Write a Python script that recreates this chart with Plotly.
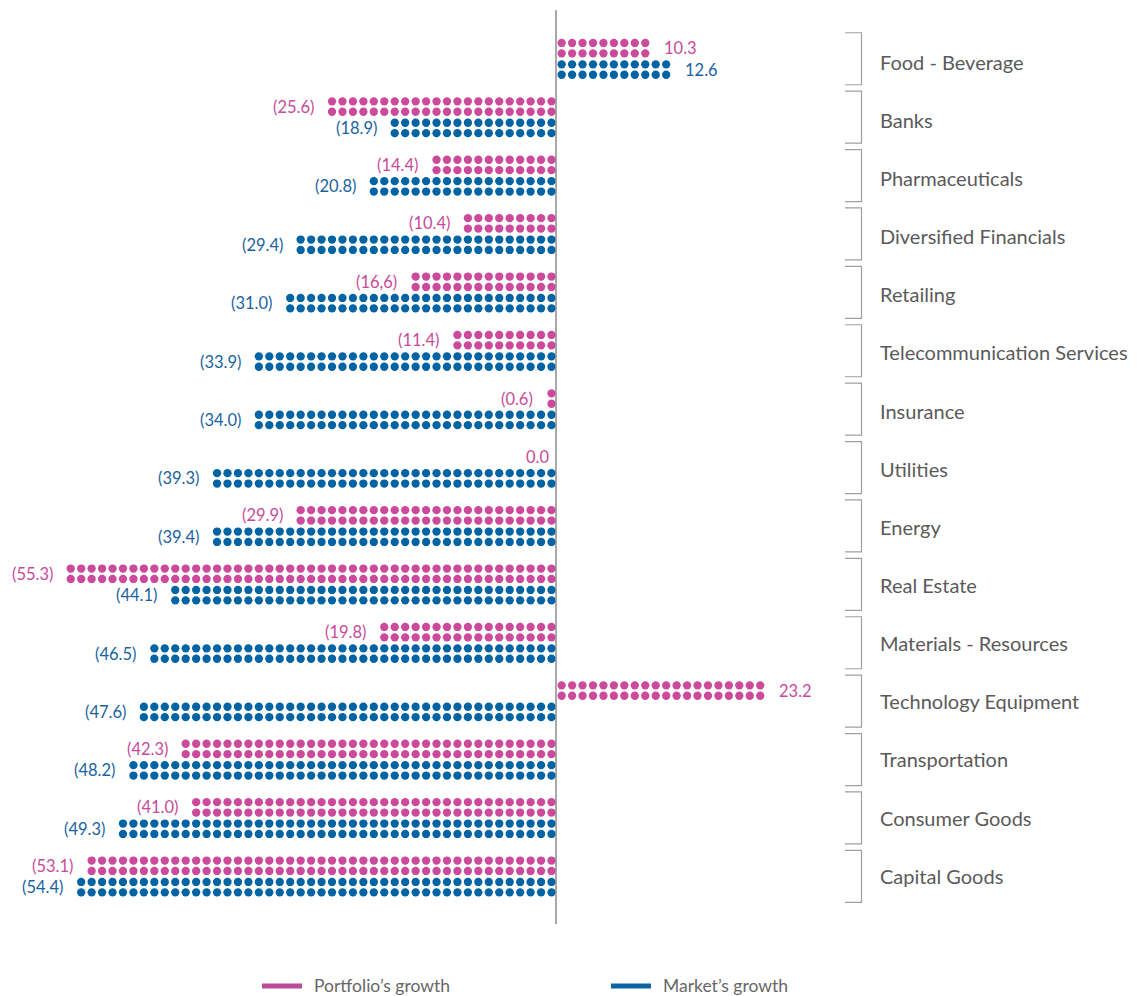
import plotly.graph_objects as go

# ---- data -------------------------------------------------------------
categories = [
    "Food - Beverage", "Banks", "Pharmaceuticals", "Diversified Financials",
    "Retailing", "Telecommunication Services", "Insurance", "Utilities",
    "Energy", "Real Estate", "Materials - Resources", "Technology Equipment",
    "Transportation", "Consumer Goods", "Capital Goods",
]
portfolio = [10.3, -25.6, -14.4, -10.4, -16.6, -11.4, -0.6, 0.0,
             -29.9, -55.3, -19.8, 23.2, -42.3, -41.0, -53.1]
market = [12.6, -18.9, -20.8, -29.4, -31.0, -33.9, -34.0, -39.3,
          -39.4, -44.1, -46.5, -47.6, -48.2, -49.3, -54.4]
portfolio_labels = ["10.3", "(25.6)", "(14.4)", "(10.4)", "(16,6)", "(11.4)",
                    "(0.6)", "0.0", "(29.9)", "(55.3)", "(19.8)", "23.2",
                    "(42.3)", "(41.0)", "(53.1)"]
market_labels = ["12.6", "(18.9)", "(20.8)", "(29.4)", "(31.0)", "(33.9)",
                 "(34.0)", "(39.3)", "(39.4)", "(44.1)", "(46.5)", "(47.6)",
                 "(48.2)", "(49.3)", "(54.4)"]
legend_names = ["Portfolio\u2019s growth", "Market\u2019s growth"]

# ---- styling / geometry -------------------------------------------------
W, H = 1142, 996
PINK, BLUE = "#CC4A9B", "#0063A3"
PINK_TXT, BLUE_TXT = "#C84B9A", "#1A63A0"
LABEL_GREY = "#5A5A5A"
FONT = "Lato"

UNIT = 1.185           # growth points represented by one column of dots
PX_PER_UNIT = 8.82     # horizontal scale
ZERO_PX = 556          # pixel position of the zero line
ROW0_PX, ROW_PITCH = 58.75, 58.4
LABEL0_PX, LABEL_PITCH = 61.8, 58.14
DOT_SIZE = 8.3
POS_START, NEG_START = 0.64, 0.51   # gap between the axis and the first dot column
ROW_OFFSETS_PX = [-15.8, -5.4, 5.6, 16.0]

x_min = -ZERO_PX / PX_PER_UNIT
x_max = (W - ZERO_PX) / PX_PER_UNIT
y_top = (0 - ROW0_PX) / ROW_PITCH
y_bot = (H - ROW0_PX) / ROW_PITCH


def py(px):
    """pixel offset -> category units"""
    return px / ROW_PITCH


def y_paper(px):
    return 1 - px / H


def dot_columns(v):
    n = int(round(abs(v) / UNIT))
    if v >= 0:
        return [POS_START + k * UNIT for k in range(n)]
    return [-(NEG_START + k * UNIT) for k in range(n)]


fig = go.Figure()
annotations = []
shapes = []
radius = DOT_SIZE / 2 / PX_PER_UNIT

for series, labels, color, txt_color, rows in [
    (portfolio, portfolio_labels, PINK, PINK_TXT, ROW_OFFSETS_PX[:2]),
    (market, market_labels, BLUE, BLUE_TXT, ROW_OFFSETS_PX[2:]),
]:
    xs, ys = [], []
    for i, v in enumerate(series):
        cols = dot_columns(v)
        for r in rows:
            for c in cols:
                xs.append(c)
                ys.append(i + py(r))
        # value label next to the end of the dots
        ymid = i + py(sum(rows) / 2)
        if cols and v > 0:
            ax, anchor, shift = cols[-1] + radius, "left", 13
        elif cols:
            ax, anchor, shift = cols[-1] - radius, "right", -12
        else:
            ax, anchor, shift = 0, "right", -5
        annotations.append(dict(
            x=ax, y=ymid, xref="x", yref="y", text=labels[i], showarrow=False,
            xanchor=anchor, yanchor="middle", xshift=shift,
            font=dict(family=FONT, size=16.5, color=txt_color),
        ))
    fig.add_trace(go.Scatter(
        x=xs, y=ys, mode="markers", hoverinfo="skip", showlegend=False,
        marker=dict(size=DOT_SIZE, color=color, line=dict(width=0)),
    ))

# category labels and brackets
BR_X0, BR_X1 = 845 / W, 861.5 / W
for i, name in enumerate(categories):
    annotations.append(dict(
        x=878 / W, y=y_paper(LABEL0_PX + i * LABEL_PITCH), xref="paper",
        yref="paper", text=name, showarrow=False, xanchor="left",
        yanchor="middle", font=dict(family=FONT, size=20, color=LABEL_GREY),
    ))
    t, b = i - py(26), i + py(26)
    shapes.append(dict(
        type="path", xref="paper", yref="y",
        path=f"M {BR_X0},{t} L {BR_X1},{t} L {BR_X1},{b} L {BR_X0},{b}",
        line=dict(color="#A0A0A0", width=1.2),
    ))

# zero line
shapes.append(dict(
    type="line", xref="x", yref="paper", x0=0, x1=0,
    y0=y_paper(10), y1=y_paper(924), line=dict(color="#7A7A7A", width=1.3),
))

# legend
for (lx0, lx1, tx), name, color in zip(
    [(262, 302, 312), (611, 651, 661)], legend_names, ["#BC4A9B", "#0A64A4"]
):
    shapes.append(dict(
        type="line", xref="paper", yref="paper",
        x0=lx0 / W, x1=lx1 / W, y0=y_paper(986), y1=y_paper(986),
        line=dict(color=color, width=5),
    ))
    annotations.append(dict(
        x=tx / W, y=y_paper(985), xref="paper", yref="paper", text=name,
        showarrow=False, xanchor="left", yanchor="middle",
        font=dict(family=FONT, size=17.5, color="#666666"),
    ))

fig.update_layout(
    width=W, height=H, margin=dict(l=0, r=0, t=0, b=0),
    paper_bgcolor="white", plot_bgcolor="white",
    xaxis=dict(range=[x_min, x_max], visible=False, fixedrange=True),
    yaxis=dict(range=[y_bot, y_top], visible=False, fixedrange=True),
    annotations=annotations, shapes=shapes, showlegend=False,
)

fig.write_html("out.html")
